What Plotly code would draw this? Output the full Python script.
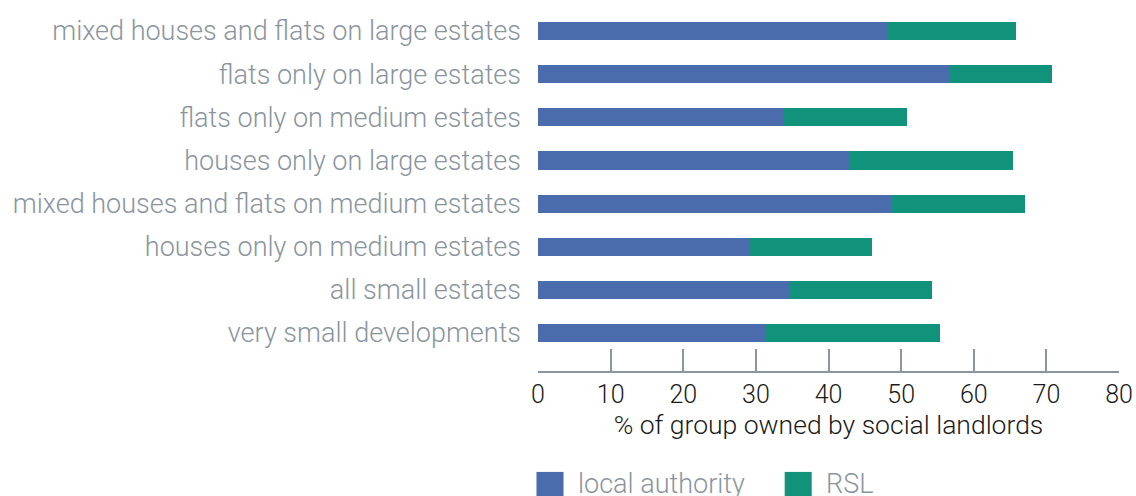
import plotly.graph_objects as go

categories = [
    "mixed houses and flats on large estates",
    "flats only on large estates",
    "flats only on medium estates",
    "houses only on large estates",
    "mixed houses and flats on medium estates",
    "houses only on medium estates",
    "all small estates",
    "very small developments",
]
local_authority = [48.1, 56.7, 33.9, 42.8, 48.7, 29.1, 34.5, 31.4]
rsl = [17.7, 14.1, 16.9, 22.6, 18.3, 16.9, 19.7, 23.9]
series_names = ["local authority", "RSL"]
x_ticks = [0, 10, 20, 30, 40, 50, 60, 70, 80]
x_title = "% of group owned by social landlords"

LA_COLOR = "#4a6cac"
RSL_COLOR = "#11937b"
GREY = "#8a959e"
FONT = "Roboto"

fig = go.Figure()
fig.add_trace(go.Bar(y=categories, x=local_authority, orientation="h",
                     marker=dict(color=LA_COLOR, line=dict(width=0)),
                     name=series_names[0], showlegend=False))
fig.add_trace(go.Bar(y=categories, x=rsl, orientation="h",
                     marker=dict(color=RSL_COLOR, line=dict(width=0)),
                     name=series_names[1], showlegend=False))

fig.update_layout(
    barmode="stack",
    bargap=0.58,
    width=1136, height=496,
    margin=dict(l=538, r=17, t=0, b=125),
    paper_bgcolor="white", plot_bgcolor="white",
    font=dict(family=FONT, size=26, color="#1a1a1a", weight=300),
)
fig.update_xaxes(
    range=[0, 80], tickvals=x_ticks, ticktext=[str(v) for v in x_ticks],
    showgrid=False, zeroline=False,
    showline=True, linecolor=GREY, linewidth=2,
    ticks="inside", ticklen=22, tickwidth=2, tickcolor=GREY,
    tickfont=dict(family=FONT, size=25, color="#1a1a1a", weight=300),
    title=dict(text=x_title, font=dict(family=FONT, size=26.5, color="#1a1a1a", weight=300), standoff=6),
    automargin=False,
)
fig.update_yaxes(
    categoryorder="array", categoryarray=categories,
    range=[7.881, -0.719], autorange=False,
    showgrid=False, zeroline=False, showline=False,
    ticks="", ticklabelstandoff=16,
    tickfont=dict(family=FONT, size=27, color=GREY, weight=300),
    automargin=False,
)

# manual legend (large square swatches)
legend_items = [(series_names[0], LA_COLOR, -0.0026, 0.0646), (series_names[1], RSL_COLOR, 0.4246, 0.4918)]
for name, color, sx, tx in legend_items:
    fig.add_shape(type="rect", xref="paper", yref="paper",
                  x0=sx, x1=sx + 0.0465, y0=-0.36, y1=-0.272,
                  fillcolor=color, line=dict(width=0))
    fig.add_annotation(text=name, xref="paper", yref="paper", x=tx, y=-0.305,
                       xanchor="left", yanchor="middle", showarrow=False,
                       font=dict(family=FONT, size=27, color=GREY, weight=300))

fig.write_html(
    "out.html",
    config={"displayModeBar": False},
    post_script="document.documentElement.style.margin='0';document.body.style.margin='0';document.body.style.overflow='hidden';",
)
